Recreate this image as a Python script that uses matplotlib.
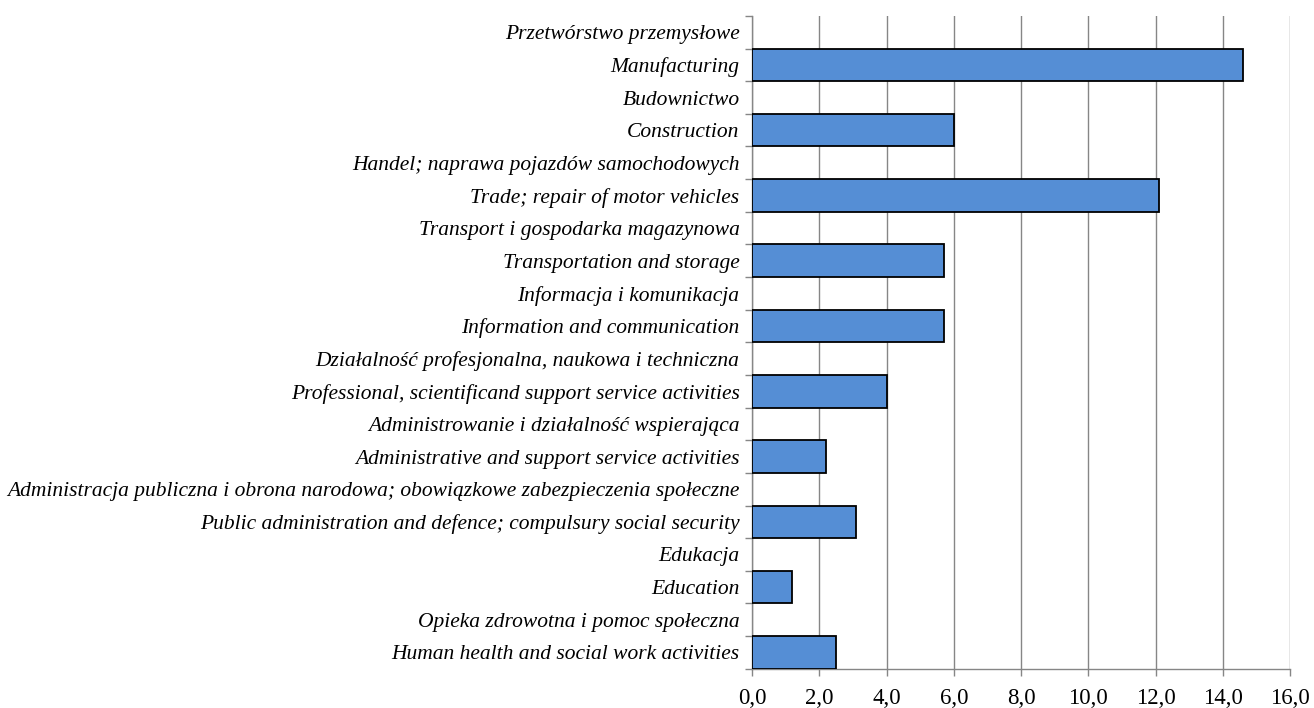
import numpy as np
from matplotlib import pyplot as plt

# sectors, Polish label above English one
labels_pl = [
    "Przetwórstwo przemysłowe",
    "Budownictwo",
    "Handel; naprawa pojazdów samochodowych",
    "Transport i gospodarka magazynowa",
    "Informacja i komunikacja",
    "Działalność profesjonalna, naukowa i techniczna",
    "Administrowanie i działalność wspierająca",
    "Administracja publiczna i obrona narodowa; obowiązkowe zabezpieczenia społeczne",
    "Edukacja",
    "Opieka zdrowotna i pomoc społeczna",
]
labels_en = [
    "Manufacturing",
    "Construction",
    "Trade; repair of motor vehicles",
    "Transportation and storage",
    "Information and communication",
    "Professional, scientificand support service activities",
    "Administrative and support service activities",
    "Public administration and defence; compulsury social security",
    "Education",
    "Human health and social work activities",
]
values = [14.6, 6.0, 12.1, 5.7, 5.7, 4.0, 2.2, 3.1, 1.2, 2.5]
xticks = [0, 2, 4, 6, 8, 10, 12, 14, 16]

plt.rcParams['font.family'] = ['Liberation Serif', 'DejaVu Serif']
grid_col = "#868686"

labels = []
for pl, en in zip(labels_pl, labels_en):
    labels += [pl, en]
n = len(labels)
pos = np.arange(n)

fig = plt.figure(figsize=(13.14, 7.08), dpi=100)
ax = fig.add_axes([0.5723, 0.0555, 0.4095, 0.922])

en_pos = pos[1::2]
ax.barh(en_pos, values, height=1.0, color="#558ED5",
        edgecolor="black", linewidth=1.3, zorder=3)

ax.set_xlim(0, 16)
ax.set_ylim(n - 0.5, -0.5)
ax.set_xticks(xticks)
ax.set_xticklabels([f"{v:.1f}".replace(".", ",") for v in xticks], fontsize=16.5)
ax.set_yticks(pos)
ax.set_yticklabels(labels, fontsize=15.5, style="italic")
ax.set_yticks(np.arange(n + 1) - 0.5, minor=True)
ax.tick_params(axis="y", which="major", length=0, pad=9)
ax.tick_params(axis="y", which="minor", length=5, color=grid_col, width=1)
ax.tick_params(axis="x", length=5, color=grid_col, width=1, pad=9)

ax.grid(axis="x", color=grid_col, linewidth=1, zorder=0)
ax.set_axisbelow(True)
for s in ["top", "right"]:
    ax.spines[s].set_visible(False)
for s in ["left", "bottom"]:
    ax.spines[s].set_color(grid_col)
    ax.spines[s].set_linewidth(1)

fig.savefig("out.png", dpi=100)
